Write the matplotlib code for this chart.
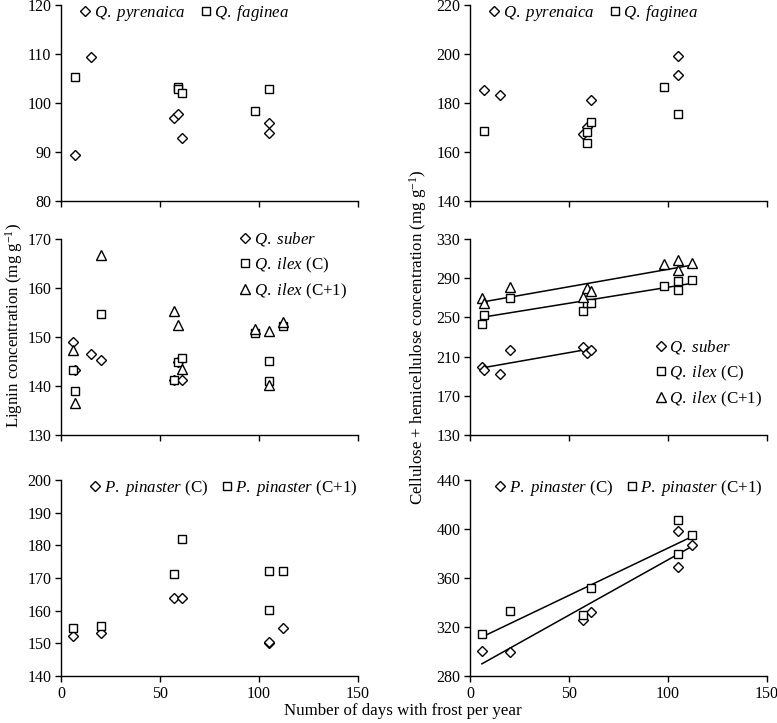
import numpy as np
import matplotlib
matplotlib.use("Agg")
import matplotlib.pyplot as plt

plt.rcParams['font.family'] = ['Liberation Serif', 'DejaVu Serif']
plt.rcParams['mathtext.fontset'] = 'custom'
plt.rcParams['mathtext.rm'] = 'Liberation Serif'
plt.rcParams['mathtext.it'] = 'Liberation Serif:italic'

# --- data ---
# deciduous oaks
pyr_x = [7, 15, 57, 59, 61, 105, 105]
pyr_lig = [89.4, 109.4, 96.9, 97.8, 92.9, 95.9, 93.9]
pyr_cel = [185.3, 183.1, 167.2, 170.3, 181.1, 199.2, 191.6]
fag_x = [7, 59, 59, 61, 98, 105]
fag_lig = [105.4, 103.2, 102.8, 102.0, 98.3, 102.9]
fag_cel = [168.6, 168.2, 163.5, 172.2, 186.7, 175.6]

# evergreen oaks
sub_x = [6, 7, 15, 20, 57, 59, 61]
sub_lig = [149.0, 143.3, 146.5, 145.4, 141.3, 144.9, 141.3]
sub_cel = [199.4, 196.0, 192.0, 216.4, 219.8, 213.7, 216.7]
ilex_x = [6, 7, 20, 57, 59, 61, 98, 105, 105, 112]
ilexC_lig = [143.3, 138.9, 154.7, 141.3, 144.9, 145.8, 150.9, 145.0, 141.0, 152.2]
ilexC_cel = [243.0, 252.4, 269.5, 256.5, 264.7, 265.0, 282.1, 287.0, 278.4, 288.4]
ilexC1_lig = [147.3, 136.6, 166.7, 155.3, 152.4, 143.4, 151.6, 151.3, 140.2, 153.0]
ilexC1_cel = [269.8, 264.4, 281.4, 271.2, 279.6, 276.6, 304.4, 308.2, 298.3, 305.1]

# pine
pin_x = [6, 20, 57, 61, 105, 105, 112]
pinC_lig = [152.2, 153.2, 163.9, 163.9, 150.2, 150.4, 154.6]
pinC1_lig = [154.8, 155.3, 171.1, 182.0, 172.0, 160.3, 172.2]
pinC_cel = [300.8, 299.7, 325.5, 332.3, 398.4, 369.3, 386.6]
pinC1_cel = [314.5, 332.9, 329.6, 352.1, 407.1, 379.2, 394.8]

lab_pyr = r'$\it{Q.\ pyrenaica}$'
lab_fag = r'$\it{Q.\ faginea}$'
lab_sub = r'$\it{Q.\ suber}$'
lab_ilC = r'$\it{Q.\ ilex}$ (C)'
lab_ilC1 = r'$\it{Q.\ ilex}$ (C+1)'
lab_pC = r'$\it{P.\ pinaster}$ (C)'
lab_pC1 = r'$\it{P.\ pinaster}$ (C+1)'

mk = {'D': dict(marker='D', ms=5.6), 's': dict(marker='s', ms=6.3), '^': dict(marker='^', ms=7.5)}


def pts(ax, x, y, m, label):
    ax.plot(x, y, linestyle='none', mfc='white', mec='black', mew=1.0, label=label, **mk[m])


def fit(ax, x, y):
    b, a = np.polyfit(x, y, 1)
    xx = np.array([min(x), max(x)])
    ax.plot(xx, a + b * xx, color='black', lw=1.1, zorder=1)


def style(ax, ylim, step, xlabels):
    ax.set_xlim(0, 150)
    ax.set_ylim(*ylim)
    ax.set_xticks([0, 50, 100, 150])
    ax.set_yticks(np.arange(ylim[0], ylim[1] + 0.1, step))
    if not xlabels:
        ax.set_xticklabels([])
    for s in ['top', 'right']:
        ax.spines[s].set_visible(False)
    for s in ['left', 'bottom']:
        ax.spines[s].set_linewidth(1.0)
    ax.tick_params(direction='out', length=4, width=1.0, labelsize=11.5, pad=3)


fig = plt.figure(figsize=(7.77, 7.23), dpi=100)
W, H = 777, 723
lefts = [61 / W, 470 / W]
tops = [5, 239, 480]
aw, ah = 297 / W, 196 / H
axes = [[fig.add_axes([l, 1 - (t + 196) / H, aw, ah]) for l in lefts] for t in tops]

FS = 12.2
leg_kw = dict(frameon=False, fontsize=FS, handlelength=0.6, handletextpad=0.2,
              borderpad=0, borderaxespad=0, numpoints=1)

# top row
ax = axes[0][0]
pts(ax, pyr_x, pyr_lig, 'D', lab_pyr)
pts(ax, fag_x, fag_lig, 's', lab_fag)
style(ax, (80, 120), 10, False)
ax.legend(loc='center left', bbox_to_anchor=(0.064, 0.96), ncol=2, columnspacing=0.9, **leg_kw)

ax = axes[0][1]
pts(ax, pyr_x, pyr_cel, 'D', lab_pyr)
pts(ax, fag_x, fag_cel, 's', lab_fag)
style(ax, (140, 220), 20, False)
ax.legend(loc='center left', bbox_to_anchor=(0.064, 0.96), ncol=2, columnspacing=0.9, **leg_kw)

# middle row
ax = axes[1][0]
pts(ax, sub_x, sub_lig, 'D', lab_sub)
pts(ax, ilex_x, ilexC_lig, 's', lab_ilC)
pts(ax, ilex_x, ilexC1_lig, '^', lab_ilC1)
style(ax, (130, 170), 10, False)
ax.legend(loc='upper left', bbox_to_anchor=(0.603, 1.045), labelspacing=0.42, **leg_kw)

ax = axes[1][1]
fit(ax, sub_x, sub_cel)
fit(ax, ilex_x, ilexC_cel)
fit(ax, ilex_x, ilexC1_cel)
pts(ax, sub_x, sub_cel, 'D', lab_sub)
pts(ax, ilex_x, ilexC_cel, 's', lab_ilC)
pts(ax, ilex_x, ilexC1_cel, '^', lab_ilC1)
style(ax, (130, 330), 40, False)
ax.legend(loc='upper left', bbox_to_anchor=(0.626, 0.494), labelspacing=0.42, **leg_kw)

# bottom row
ax = axes[2][0]
pts(ax, pin_x, pinC_lig, 'D', lab_pC)
pts(ax, pin_x, pinC1_lig, 's', lab_pC1)
style(ax, (140, 200), 10, True)
ax.legend(loc='center left', bbox_to_anchor=(0.098, 0.96), ncol=2, columnspacing=0.8, **leg_kw)

ax = axes[2][1]
fit(ax, pin_x, pinC_cel)
fit(ax, pin_x, pinC1_cel)
pts(ax, pin_x, pinC_cel, 'D', lab_pC)
pts(ax, pin_x, pinC1_cel, 's', lab_pC1)
style(ax, (280, 440), 40, True)
ax.legend(loc='center left', bbox_to_anchor=(0.084, 0.96), ncol=2, columnspacing=0.8, **leg_kw)

fig.text(14 / W, 1 - 325 / H, 'Lignin concentration (mg g$^{-1}$)', rotation=90,
         ha='center', va='center', fontsize=FS)
fig.text(418 / W, 1 - 337 / H, 'Cellulose + hemicellulose concentration (mg g$^{-1}$)',
         rotation=90, ha='center', va='center', fontsize=FS)
fig.text(403 / W, 1 - 711 / H, 'Number of days with frost per year',
         ha='center', va='center', fontsize=FS)

fig.savefig('out.png', dpi=100)
